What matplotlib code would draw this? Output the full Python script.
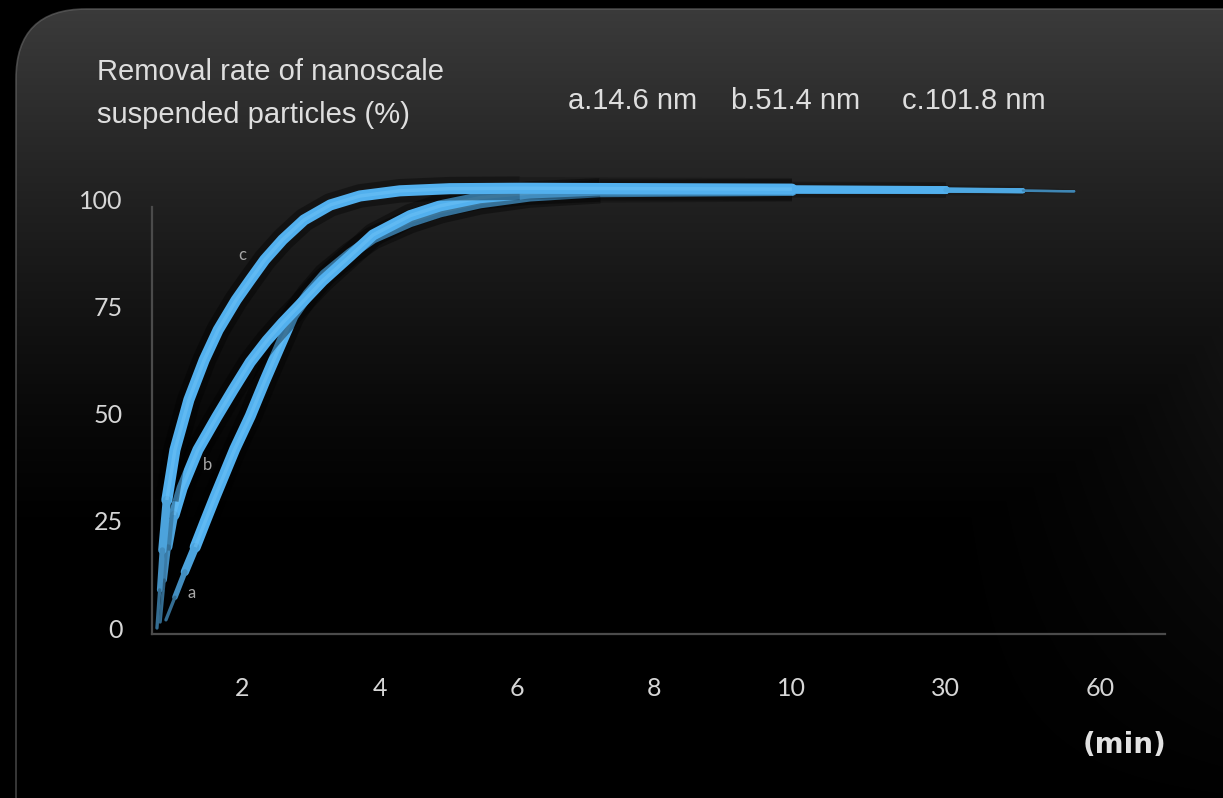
import numpy as np
import matplotlib
matplotlib.use("Agg")
import matplotlib.pyplot as plt
from matplotlib.collections import LineCollection
from matplotlib.patches import FancyBboxPatch

# ---------------- data ----------------
x_ticks = [2, 4, 6, 8, 10, 30, 60]
x_tick_labels = ["2", "4", "6", "8", "10", "30", "60"]
y_ticks = [0, 25, 50, 75, 100]
y_tick_labels = ["0", "25", "50", "75", "100"]

legend_labels = ["a.14.6 nm", "b.51.4 nm", "c.101.8 nm"]
title_lines = ["Removal rate of nanoscale", "suspended particles (%)"]
unit_label = "(min)"

t_a = [0.31, 0.51, 0.73, 0.96, 1.18, 1.40, 1.62, 1.84, 2.12, 2.33, 2.55, 2.74, 2.96,
       3.20, 3.57, 3.90, 4.44, 4.88, 5.46, 6.19, 7.21, 10, 30, 45, 55]
v_a = [1.9, 7.2, 13.1, 18.9, 24.8, 30.6, 36.2, 41.8, 49.5, 57.7, 65.9, 72.9, 78.0,
       82.5, 87.4, 91.1, 94.9, 97.2, 99.3, 100.9, 101.9, 102.2, 102.2, 102.1, 102.0]

t_b = [0.18, 0.27, 0.36, 0.49, 0.67, 1.02, 1.44, 1.80, 2.12, 2.36, 2.59, 2.84, 3.17,
       3.57, 3.90, 4.44, 4.88, 5.46, 6.19, 7.21, 10, 30, 45, 55]
v_b = [1.4, 11.2, 18.9, 26.4, 32.7, 41.6, 49.3, 55.6, 62.1, 67.1, 71.3, 75.5, 81.1,
       86.9, 91.8, 96.3, 98.6, 100.5, 101.6, 102.3, 102.3, 102.25, 102.1, 102.0]

t_c = [0.11, 0.17, 0.23, 0.33, 0.51, 0.82, 1.16, 1.47, 1.87, 2.12, 2.33, 2.59, 2.90,
       3.28, 3.71, 4.29, 5.02, 6.04, 10, 30, 45, 55]
v_c = [0.0, 8.9, 18.2, 29.9, 41.6, 53.3, 62.6, 69.6, 76.6, 81.3, 86.0, 90.7, 95.3,
       98.8, 100.9, 102.1, 102.6, 102.7, 102.5, 102.3, 102.15, 102.0]

# ---------------- figure ----------------
W, H = 1223, 798
fig = plt.figure(figsize=(W / 100, H / 100), dpi=100)
fig.patch.set_facecolor("black")

# background panel with gradient
bg = fig.add_axes([0, 0, 1, 1])
bg.set_xlim(0, W)
bg.set_ylim(H, 0)
bg.axis("off")
yy, xx = np.mgrid[0:H, 0:W]
vert = np.clip(1 - yy / 540.0, 0, 1) ** 1.3 * 0.235
side = np.clip((xx - 900) / 323.0, 0, 1) ** 1.6 * np.clip(1 - yy / 820.0, 0, 1) * 0.12
grad = np.clip(np.maximum(vert, side), 0, 1)
img = bg.imshow(np.dstack([grad, grad, grad]), extent=[0, W, H, 0], zorder=0,
                interpolation="bilinear")
panel = FancyBboxPatch((16, 9), W + 60, H + 60,
                       boxstyle="round,pad=0,rounding_size=70",
                       transform=bg.transData, facecolor="none",
                       edgecolor="none")
bg.add_patch(panel)
img.set_clip_path(panel)
edge = FancyBboxPatch((16, 9), W + 60, H + 60,
                      boxstyle="round,pad=0,rounding_size=70",
                      transform=bg.transData, facecolor="none",
                      edgecolor="#6a6a6a", linewidth=1.2, alpha=0.6)
bg.add_patch(edge)

# main axes
left_px, right_px, bottom_px, top_px = 152, 1165, 634, 157
ax = fig.add_axes([left_px / W, (H - bottom_px) / H,
                   (right_px - left_px) / W, (bottom_px - top_px) / H])
ax.set_facecolor("none")

T_anchor = [0, 2, 4, 6, 8, 10, 30, 60, 90]
P_anchor = [0, 90, 228, 365, 502, 640, 794, 948, 1102]
fwd = lambda t: np.interp(t, T_anchor, P_anchor)
inv = lambda p: np.interp(p, P_anchor, T_anchor)
ax.set_xscale("function", functions=(fwd, inv))
ax.set_xlim(0, 72.7)
ax.set_ylim(-1.4, 110)

for s in ["top", "right"]:
    ax.spines[s].set_visible(False)
for s in ["left", "bottom"]:
    ax.spines[s].set_color("#4b4b4b")
    ax.spines[s].set_linewidth(1.6)
ax.spines["left"].set_bounds(-1.4, 98.4)

tick_font = dict(family=["Lato", "DejaVu Sans"], size=18)
ax.set_xticks(x_ticks)
ax.set_xticklabels(x_tick_labels, color="#d6d6d6", **tick_font)
ax.set_yticks(y_ticks)
ax.set_yticklabels(y_tick_labels, color="#d6d6d6", **tick_font)
ax.tick_params(axis="x", length=0, pad=31)
ax.tick_params(axis="y", length=0, pad=21)
ax.xaxis.set_minor_locator(matplotlib.ticker.NullLocator())

BLUE = np.array(matplotlib.colors.to_rgb("#52b0ee"))


def dim(f, base=0.03):
    return tuple(BLUE * f + base * (1 - f))


def draw_curve(t, v, z):
    t = np.asarray(t, float)
    v = np.asarray(v, float)
    n = len(t)
    pts = np.column_stack([t, v])
    # shadow: smooth body up to the last point before t = 10, then fading pieces
    ax.plot(t[3:n - 4], v[3:n - 4], color="black", lw=17, alpha=0.36,
            solid_capstyle="butt", solid_joinstyle="round", zorder=z, clip_on=False)
    sidx = [2, 1, 0, n - 5, n - 4, n - 3, n - 2]
    ssegs = [pts[i:i + 2] for i in sidx]
    swid = np.array([0.75, 0.5, 0.3, 1.0, 0.7, 0.45, 0.2])
    salpha = [0.22, 0.13, 0.07, 0.2, 0.1, 0.05, 0.02]
    ax.add_collection(LineCollection(ssegs, linewidths=swid * 16,
                                     colors=[(0, 0, 0, a) for a in salpha],
                                     capstyle="butt", zorder=z, clip_on=False))
    # core body
    body = slice(3, n - 3)
    ax.plot(t[body], v[body], color=tuple(BLUE), lw=8,
            solid_capstyle="round", solid_joinstyle="round", zorder=z + 0.5,
            clip_on=False)
    ax.plot(t[body], v[body], color="#6cc2f6", lw=2.5, alpha=0.55,
            solid_capstyle="butt", solid_joinstyle="round", zorder=z + 0.6,
            clip_on=False)
    # tapered ends
    idx = [2, 1, 0, n - 4, n - 3, n - 2]
    segs = [pts[i:i + 2] for i in idx]
    wid = np.array([0.75, 0.5, 0.3, 0.7, 0.45, 0.2])
    fade = [0.92, 0.8, 0.6, 1.0, 0.95, 0.75]
    ax.add_collection(LineCollection(segs, linewidths=wid * 8,
                                     colors=[dim(f) for f in fade],
                                     capstyle="round", joinstyle="round",
                                     zorder=z + 0.5, clip_on=False))


draw_curve(t_a, v_a, 3)
draw_curve(t_b, v_b, 4)
draw_curve(t_c, v_c, 5)

lab_font = dict(family=["Lato", "DejaVu Sans"], size=12, color="#a8a8a8",
                ha="center", va="center", zorder=10)
ax.text(0.87, 8.2, "a", **lab_font)
ax.text(1.24, 38.1, "b", **lab_font)
ax.text(2.01, 87.1, "c", **lab_font)

# texts
txt = dict(family=["Liberation Sans", "DejaVu Sans"], size=21, color="#dedede",
           va="center")
fig.text(97 / W, 1 - 72 / H, title_lines[0], **txt)
fig.text(97 / W, 1 - 115 / H, title_lines[1], **txt)
for xpx, lab in zip([568, 731, 902], legend_labels):
    fig.text(xpx / W, 1 - 101 / H, lab, **txt)

fig.text(1166 / W, 1 - 745 / H, unit_label, family=["DejaVu Sans"],
         size=20, weight="bold", color="#e2e2e2", ha="right", va="center")

fig.savefig("out.png", dpi=100, facecolor="black")
